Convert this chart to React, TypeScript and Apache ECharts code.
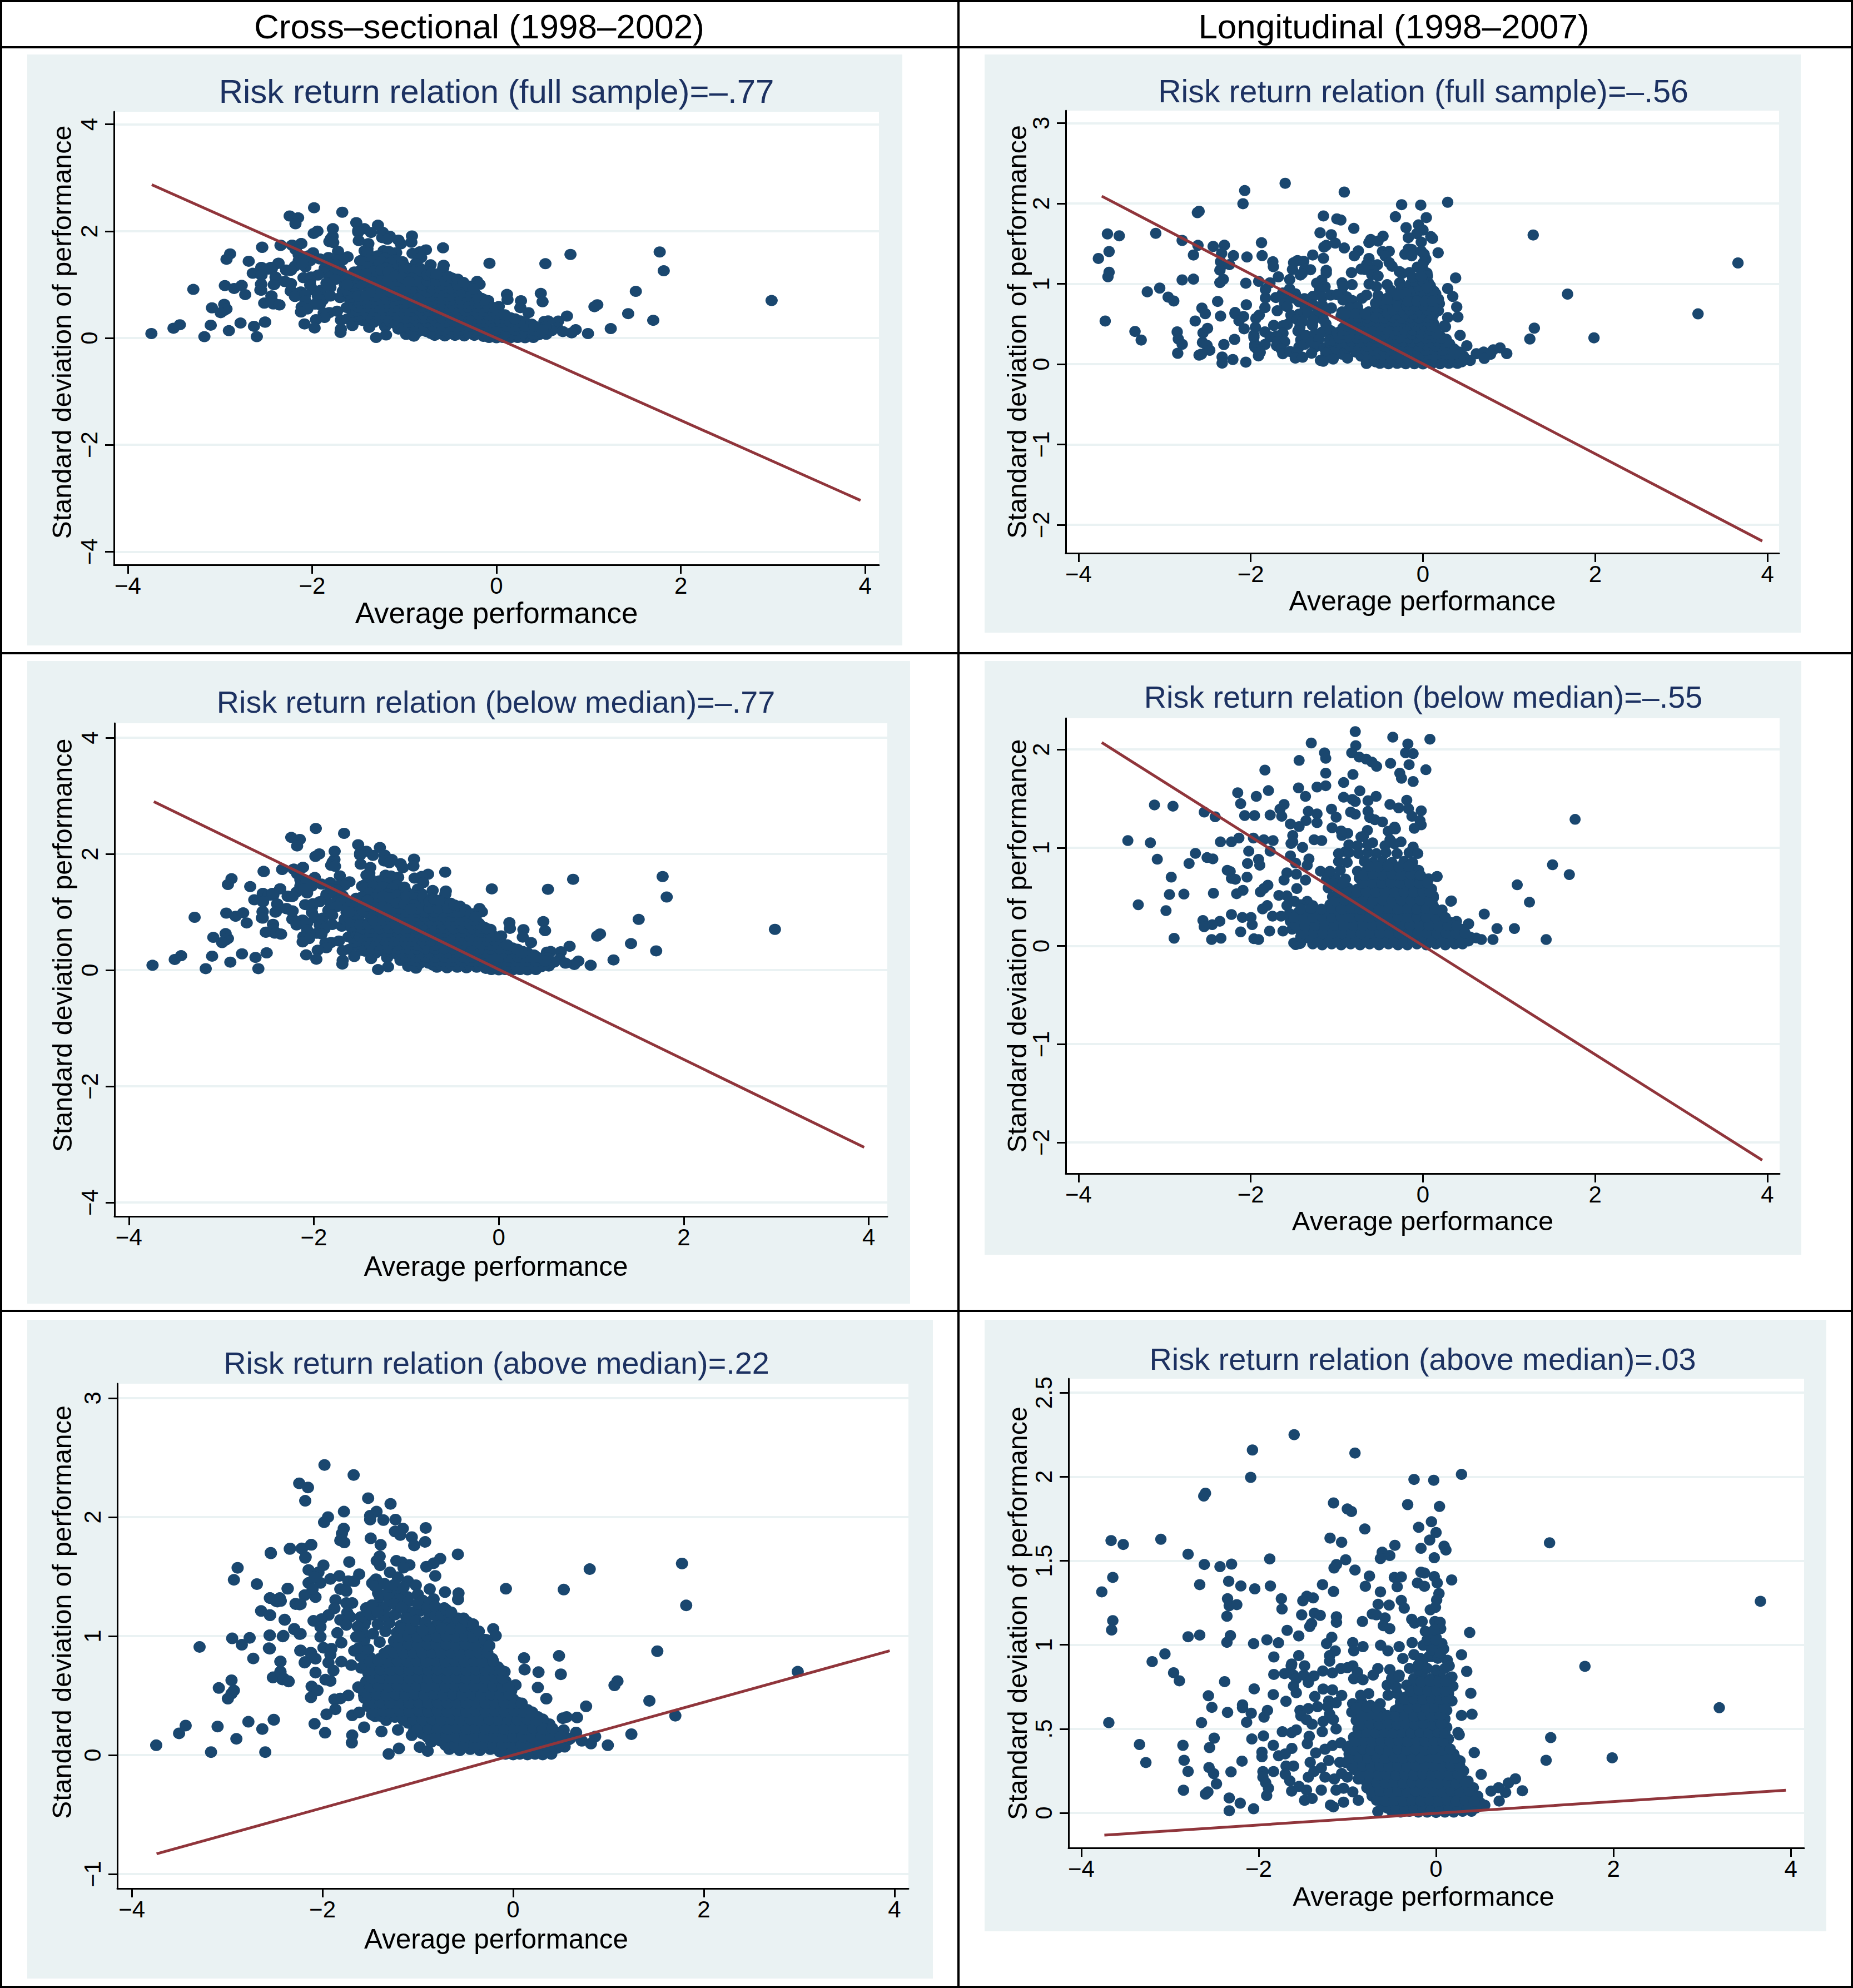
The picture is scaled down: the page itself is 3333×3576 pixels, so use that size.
import React, { useEffect, useRef } from "react";
import * as echarts from "echarts";

const columnHeaders = ["Cross–sectional (1998–2002)", "Longitudinal (1998–2007)"];
const panelTitles = [
  "Risk return relation (full sample)=–.77",
  "Risk return relation (full sample)=–.56",
  "Risk return relation (below median)=–.77",
  "Risk return relation (below median)=–.55",
  "Risk return relation (above median)=.22",
  "Risk return relation (above median)=.03",
];
const xTitle = "Average performance";
const yTitle = "Standard deviation of performance";
const xTicks = [-4, -2, 0, 2, 4];
const yTicksWide = [-4, -2, 0, 2, 4];
const yTicksLong = [-2, -1, 0, 1, 2, 3];
const yTicksBelow = [-2, -1, 0, 1, 2];
const yTicksAboveCs = [-1, 0, 1, 2, 3];
const yTicksAboveLong = [0, 0.5, 1, 1.5, 2, 2.5];
const fitCsFull = [[-3.74, 2.87], [3.95, -3.04]];
const fitLongFull = [[-3.73, 2.09], [3.94, -2.2]];
const fitCsBelow = [[-3.73, 2.9], [3.95, -3.05]];
const fitLongBelow = [[-3.73, 2.07], [3.94, -2.18]];
const fitCsAbove = [[-3.74, -0.83], [3.95, 0.877]];
const fitLongAbove = [[-3.74, -0.132], [3.945, 0.135]];

const csOutliers = [
[-3.744,.083],[-3.504,.183],[-3.435,.248],[-3.169,.025],[-3.1,.24],[-2.903,.137],[-2.777,.28],[-2.631,.219],[-2.6,.025],[-2.511,.298],
[-3.289,.909],[-2.947,.981],[-2.846,.927],[-2.764,.985],[-2.726,.812],[-2.562,.898],[-2.555,1.006],[-2.41,1.003],[-2.89,1.574],[-2.929,1.473],
[-2.688,1.437],[-2.543,1.7],[-2.366,1.398],[-2.549,1.319],[-2.454,1.315],[-2.473,1.29],[-2.644,1.211],[-2.549,1.175],[-2.397,1.139],[-2.283,1.272],
[-2.239,1.265],[-2.296,1.056],[-2.239,1.017],[-2.954,.629],[-3.087,.564],[-2.929,.543],[-2.954,.517],[-2.992,.474],[-2.441,.787],[-2.441,.697],
[-2.517,.654],[-2.422,.636],[-2.359,.622],[-2.34,1.736],[-2.214,1.736],[-2.119,1.768],[-2.176,1.664],[-2.233,.877],[-2.119,.859],[-2.182,.783],
[2.985,.701],[1.771,1.61],[1.815,1.258],[1.512,.873],[.803,1.563],[.531,1.391],[-.076,1.398],[1.094,.622],[1.063,.586],[1.429,.456],[1.701,.331],
[1.24,.176],[.993,.083],[.86,.155],[.816,.097],[.765,.41],[.67,.316],[.481,.834],[.5,.679],[.266,.697],[.259,.568],[.114,.816],[.12,.719],[.348,.474],
[.025,.589],[-.209,1.06],[-.183,1.003],[-.282,.969],[-.282,.927],[-.573,1.361],[-.578,1.308],[-.715,1.37],[-.723,1.236],[.66,.19],[.58,.13],[.72,.12],[.52,.31],[.56,.32],
[-1.979,2.438],[-1.673,2.354],[-2.244,2.284],[-2.152,2.249],[-2.181,2.137],[-1.521,2.159],[-1.286,2.111],[-1.775,2.046],[-1.942,2.0],[-1.983,1.957],
[-1.433,2.046],[-1.5,2.012],[-1.5,1.979],[-1.361,1.975],[-1.234,1.979],[-.917,1.909],[-1.157,1.904],[-1.24,1.879],[-1.184,1.849],[-1.063,1.832],
[-.923,1.792],[-1.038,1.762],[-1.777,1.904],[-1.796,1.862],[-1.813,1.804],[-1.771,1.787],[-1.494,1.822],[-1.39,1.767],[-2.541,1.695],[-2.343,1.732],
[-2.219,1.737],[-2.117,1.767],[-2.181,1.657],[-1.719,1.623],[-1.4,1.67],[-1.431,1.633],[-1.396,1.595],[-1.225,1.633],[-1.167,1.62],[-1.088,1.598],
[-1.15,1.575],[-.765,1.65],[-.834,1.612],[-.911,1.583],[-.58,1.687],[-.817,1.506],[-1.99,1.595],[-2.146,1.556],[-2.042,1.536],
[-2.146,1.447],[-2.021,1.447],[-2.083,1.497],[-1.917,1.48],[-1.823,1.506],[-1.729,1.461],[-1.615,1.52],[-1.667,1.461],[-2.187,1.344],[-2.073,1.328],
[-2.104,1.395],[-2.281,1.269],[-2.229,1.269],[-2.364,1.4],[-2.552,1.32],[-2.489,1.295],[-2.437,1.295],[-2.448,1.32],[-1.864,1.303],[-1.813,1.395],
[-1.75,1.378],[-1.75,1.278],[-1.688,1.278],[-1.74,1.197],[-1.708,1.161],[-1.875,1.233],[-1.937,1.177],[-2.01,1.143],[-2.094,1.128],[-2.021,1.077],
[-1.813,1.136],[-1.75,1.094],[-1.844,1.027],[-2.021,.994],[-1.802,.944],[-1.99,.902],[-1.906,.894],[-1.917,.844],[-1.937,.777],[-1.885,.71],
[-1.802,.785],[-1.698,.756],[-1.594,.733],[-2.229,.88],[-2.125,.86],[-2.187,.777],[-2.073,.81],[-2.073,.693],[-1.969,.634],[-1.917,.623],
[-2.114,.577],[-2.052,.543],[-2.121,.485],[-2.441,.785],[-2.52,.652],[-2.441,.702],[-2.406,.643],[-2.354,.618],[-2.396,1.136],[-2.296,1.061],
[-2.229,1.019],[-2.416,.997],[-2.552,1.177],[-2.552,1.007],[-2.552,.894],[-1.625,.571],[-1.563,.501],[-1.729,.501],[-1.813,.476],[-1.875,.468],
[-1.865,.385],[-1.958,.343],[-1.688,.334],[-1.615,.359],[-2.083,.263],[-1.973,.188],[-1.563,.234],[-1.688,.167],[-1.692,.104],[-1.381,.198],
[-1.208,.212],[-2.51,.296],[-1.198,.056],[-1.306,.009],[-.98,.067],[-.896,.034],[-1.448,.326],[-1.333,.293],[-1.063,.167],[-1.667,.877],[-1.646,.994],
[-1.563,1.094],[-1.542,1.236],[-1.458,1.461],[-1.438,1.478],[-1.292,1.536],[-1.209,1.495],[-1.104,1.461],[-1.021,1.428],[-.875,1.395],[-.834,1.311],
[-.979,1.211],[-1.417,1.361],[-1.313,1.361],[-1.209,1.361],[-1.104,1.328],[-1.417,1.261],[-1.146,1.233],[-.875,1.177],[-.74,1.128],[-.542,1.144],
[-.417,1.036],[-1.479,1.445],[-1.313,1.161],
];
const csBlob = [
[-.08,.01],[0,.005],[.07,.01],[.15,.005],[.23,.01],[.31,.005],[.4,.01],
[-.67,.05],[-.56,.04],[-.45,.05],[-.35,.04],[-.24,.05],[-.14,.03],[-.04,.05],[.06,.04],[.16,.05],[.26,.04],[.36,.05],[.46,.06],[.54,.07],
[-.86,.11],[-.76,.12],[-.66,.1],[-.56,.12],[-.46,.11],[-.36,.13],[-.26,.11],[-.16,.12],[-.06,.11],[.04,.13],[.14,.11],[.24,.12],[.34,.11],[.44,.13],[.53,.12],[.6,.14],
[-1.04,.2],[-.95,.18],[-.84,.2],[-.74,.19],[-.64,.18],[-.54,.2],[-.44,.19],[-.34,.18],[-.24,.2],[-.14,.19],[-.04,.18],[.06,.2],[.16,.19],[.26,.18],[.36,.2],[.46,.19],[.53,.21],
[-1.1,.27],[-1,.25],[-.9,.27],[-.8,.26],[-.7,.25],[-.6,.27],[-.5,.26],[-.4,.25],[-.3,.27],[-.2,.26],[-.1,.25],[0,.27],[.1,.26],[.2,.25],[.3,.27],[.38,.26],
[-1.48,.34],[-1.4,.33],[-1.32,.35],[-1.24,.32],[-1.14,.34],[-1.04,.33],[-.94,.32],[-.84,.34],[-.74,.33],[-.64,.32],[-.54,.34],[-.44,.33],[-.34,.32],[-.24,.34],[-.14,.33],[-.04,.32],[.06,.34],[.16,.33],[.26,.32],[.31,.3],
[-1.52,.41],[-1.44,.4],[-1.34,.39],[-1.24,.41],[-1.14,.4],[-1.04,.39],[-.94,.41],[-.84,.4],[-.74,.39],[-.64,.41],[-.54,.4],[-.44,.39],[-.34,.41],[-.24,.4],[-.14,.39],[-.04,.41],[.05,.4],[.15,.38],
[-1.56,.48],[-1.48,.47],[-1.38,.46],[-1.28,.48],[-1.18,.47],[-1.08,.46],[-.98,.48],[-.88,.47],[-.78,.46],[-.68,.48],[-.58,.47],[-.48,.46],[-.38,.48],[-.28,.47],[-.18,.46],[-.08,.48],[0,.47],[.05,.44],
[-1.58,.55],[-1.5,.54],[-1.4,.53],[-1.3,.55],[-1.2,.54],[-1.1,.53],[-1,.55],[-.9,.54],[-.8,.53],[-.7,.55],[-.6,.54],[-.5,.53],[-.4,.55],[-.3,.54],[-.2,.53],[-.1,.55],[-.02,.54],
[-1.54,.62],[-1.46,.61],[-1.36,.6],[-1.26,.62],[-1.16,.61],[-1.06,.6],[-.96,.62],[-.86,.61],[-.76,.6],[-.66,.62],[-.56,.61],[-.46,.6],[-.36,.62],[-.26,.61],[-.16,.6],[-.08,.62],
[-1.52,.69],[-1.44,.68],[-1.34,.67],[-1.24,.69],[-1.14,.68],[-1.04,.67],[-.94,.69],[-.84,.68],[-.74,.67],[-.64,.69],[-.54,.68],[-.44,.67],[-.34,.69],[-.24,.68],[-.14,.67],[-.09,.7],
[-1.56,.76],[-1.46,.75],[-1.36,.74],[-1.26,.76],[-1.16,.75],[-1.06,.74],[-.96,.76],[-.86,.75],[-.76,.74],[-.66,.76],[-.56,.75],[-.46,.74],[-.36,.76],[-.26,.75],[-.16,.74],
[-1.6,.83],[-1.5,.82],[-1.4,.81],[-1.3,.83],[-1.2,.82],[-1.1,.81],[-1,.83],[-.9,.82],[-.8,.81],[-.7,.83],[-.6,.82],[-.5,.81],[-.4,.83],[-.3,.82],[-.22,.81],
[-1.62,.9],[-1.52,.89],[-1.3,.88],[-1.2,.9],[-1.1,.89],[-1,.88],[-.9,.9],[-.8,.89],[-.7,.88],[-.6,.9],[-.5,.89],[-.4,.88],[-.32,.9],
[-1.56,.97],[-1.4,.95],[-1.25,.96],[-1.15,.97],[-1.05,.95],[-.95,.96],[-.85,.97],[-.75,.95],[-.65,.96],[-.55,.97],[-.45,.95],[-.37,.98],
[-1.58,1.03],[-1.47,1.02],[-1.34,1.04],[-1.22,1.03],[-1.12,1.02],[-1.02,1.04],[-.92,1.03],[-.82,1.02],[-.72,1.04],[-.62,1.03],[-.52,1.02],[-.44,1.04],
[-1.55,1.12],[-1.42,1.1],[-1.3,1.11],[-1.18,1.09],[-1.06,1.11],[-.8,1.1],[-.7,1.09],[-.6,1.1],[-.5,1.09],
[-1.48,1.18],[-1.36,1.17],[-1.24,1.18],[-1.12,1.16],[-.82,1.18],[-.68,1.16],[-.58,1.15],
];
const csSolid = [
[-.71,.085],[-.61,.08],[-.51,.085],[-.41,.08],[-.31,.085],[-.21,.08],[-.11,.085],[-.01,.08],[.09,.085],[.19,.08],[.29,.085],[.39,.08],[.49,.09],
[-.9,.155],[-.8,.15],[-.7,.155],[-.6,.15],[-.5,.155],[-.4,.15],[-.3,.155],[-.2,.15],[-.1,.155],[0,.15],[.1,.155],[.2,.15],[.3,.155],[.4,.15],[.5,.155],
[-1,.225],[-.89,.22],[-.79,.225],[-.69,.22],[-.59,.225],[-.49,.22],[-.39,.225],[-.29,.22],[-.19,.225],[-.09,.22],[.01,.225],[.11,.22],[.21,.225],[.31,.22],[.41,.225],
[-1.15,.295],[-1.05,.3],[-.95,.295],[-.85,.3],[-.75,.295],[-.65,.3],[-.55,.295],[-.45,.3],[-.35,.295],[-.25,.3],[-.15,.295],[-.05,.3],[.05,.295],[.15,.3],[.25,.295],
[-1.44,.365],[-1.36,.37],[-1.28,.365],[-1.19,.37],[-1.09,.365],[-.99,.37],[-.89,.365],[-.79,.37],[-.69,.365],[-.59,.37],[-.49,.365],[-.39,.37],[-.29,.365],[-.19,.37],[-.09,.365],[.01,.37],[.11,.365],[.2,.36],
[-1.48,.435],[-1.39,.44],[-1.29,.435],[-1.19,.44],[-1.09,.435],[-.99,.44],[-.89,.435],[-.79,.44],[-.69,.435],[-.59,.44],[-.49,.435],[-.39,.44],[-.29,.435],[-.19,.44],[-.09,.435],[.01,.44],[.09,.435],
[-1.52,.505],[-1.43,.51],[-1.33,.505],[-1.23,.51],[-1.13,.505],[-1.03,.51],[-.93,.505],[-.83,.51],[-.73,.505],[-.63,.51],[-.53,.505],[-.43,.51],[-.33,.505],[-.23,.51],[-.13,.505],[-.04,.51],
[-1.5,.575],[-1.41,.58],[-1.31,.575],[-1.21,.58],[-1.11,.575],[-1.01,.58],[-.91,.575],[-.81,.58],[-.71,.575],[-.61,.58],[-.51,.575],[-.41,.58],[-.31,.575],[-.21,.58],[-.11,.575],[-.05,.58],
[-1.48,.645],[-1.39,.65],[-1.29,.645],[-1.19,.65],[-1.09,.645],[-.99,.65],[-.89,.645],[-.79,.65],[-.69,.645],[-.59,.65],[-.49,.645],[-.39,.65],[-.29,.645],[-.19,.65],[-.11,.645],
[-1.48,.715],[-1.39,.72],[-1.29,.715],[-1.19,.72],[-1.09,.715],[-.99,.72],[-.89,.715],[-.79,.72],[-.69,.715],[-.59,.72],[-.49,.715],[-.39,.72],[-.29,.715],[-.19,.72],[-.13,.715],
[-1.5,.785],[-1.41,.79],[-1.31,.785],[-1.21,.79],[-1.11,.785],[-1.01,.79],[-.91,.785],[-.81,.79],[-.71,.785],[-.61,.79],[-.51,.785],[-.41,.79],[-.31,.785],[-.21,.79],
[-1.35,.855],[-1.25,.86],[-1.15,.855],[-1.05,.86],[-.95,.855],[-.85,.86],[-.75,.855],[-.65,.86],[-.55,.855],[-.45,.86],[-.35,.855],[-.27,.86],
[-1.2,.925],[-1.1,.93],[-1,.925],[-.9,.93],[-.8,.925],[-.7,.93],[-.6,.925],[-.5,.93],[-.4,.925],
[-1.2,.995],[-1.1,1],[-1,.995],[-.9,1],[-.8,.995],[-.7,1],[-.6,.995],[-.5,1],[-.42,.995],
[-1.18,1.065],[-1.08,1.06],[-.75,1.065],[-.65,1.06],[-.55,1.065],
[-1.45,1.42],[-1.35,1.44],[-1.25,1.43],[-1.15,1.41],[-1.4,1.33],[-1.3,1.32],[-1.2,1.31],[-1.1,1.29],[-1,1.35],[-.95,1.3],[-.88,1.28],
[-1.48,1.26],[-1.33,1.25],[-1.25,1.27],[-1.17,1.24],[-1.05,1.2],[-1,1.27],[-.9,1.24],[-.82,1.25],
[-1.6,1.16],[-1.5,1.18],[-1.42,1.2],[-1.1,1.15],[-1.02,1.13],[-.92,1.12],[-.88,1.06],[-.95,1.05],
[-1.63,1.08],[-1.62,1],[-.75,1.18],[-.7,1.22],[-.65,1.2],[-.52,1.15],[-.48,1.12],[-.42,1.1],[-.36,1.04],[-.3,.97],[-.25,.92],
];
const longOutliers = [
[-1.6,2.25],[-2.07,2.159],[-.914,2.141],[-2.09,1.996],[.287,2.014],[-.248,1.984],[-.026,1.979],[-2.6,1.902],[-2.619,1.885],[-1.156,1.844],[-.32,1.834],[.039,1.823],
[-1,1.808],[-.954,1.793],[-.803,1.689],[-.052,1.732],[-.196,1.699],[0,1.668],[-.072,1.623],[-1.195,1.635],[-1.065,1.61],[-3.664,1.62],[-3.527,1.597],[-3.103,1.628],
[-2.796,1.539],[1.28,1.607],[.091,1.587],[.111,1.564],[-.464,1.592],[-.607,1.551],[-.522,1.531],[-.627,1.513],[-.17,1.574],[-.02,1.518],[-1.875,1.511],[-1.019,1.506],
[-1.123,1.478],[-1.15,1.457],[-2.613,1.478],[-2.436,1.465],[-2.306,1.48],[-.914,1.445],[-.751,1.409],[-.47,1.401],[-.392,1.404],[-.17,1.432],[-.131,1.427],[-.02,1.406],
[.176,1.386],[.013,1.368],[-.209,1.368],[-.131,1.348],[-.438,1.345],[-3.645,1.401],[-3.769,1.315],[-2.665,1.358],[-2.338,1.378],[-2.201,1.35],[-2.044,1.333],[-1.868,1.35],
[-1.28,1.358],[-1.156,1.317],[-.797,1.348],[-.627,1.315],[.033,1.305],[.007,1.267],[-2.351,1.274],[-2.332,1.233],[-2.247,1.239],[-1.744,1.274],[-1.737,1.213],[-1.457,1.289],
[-1.385,1.279],[-1.502,1.262],[-.653,1.241],[-.529,1.236],[-.392,1.264],[-.359,1.218],[-.065,1.208],[-.007,1.223],[-2.358,1.17],[-1.515,1.178],[-1.372,1.188],[-1.306,1.175],
[-1.123,1.167],[-1.123,1.134],[-.83,1.139],[-.718,1.183],[-.673,1.178],[-.575,1.16],[-3.645,1.144],[-3.658,1.088],[-2.796,1.048],[-2.665,1.058],[-2.319,1.055],[-2.358,1.015],
[-2.057,1.007],[-1.907,1.03],[-1.777,1.012],[-1.424,1.109],[-1.404,1.127],[-1.679,1.086],[-1.548,1.053],[-1.176,1.045],[-1.234,1.007],[-.594,1.114],[-.522,1.096],[-.274,1.152],
[-.242,1.129],[-.157,1.139],[-.013,1.139],[.046,1.134],[.052,1.096],[-.033,1.076],[.379,1.073],[.287,.941],[.346,.842],[.392,.712],[.287,.58],[.405,.587],[.248,.478],[.261,.465],
[.431,.359],[3.658,1.259],[1.679,.872],[3.194,.626],[1.986,.328],[1.293,.448],[1.241,.313],[.973,.132],[.895,.203],[.816,.178],[.784,.122],[.705,.15],[.62,.13],[.712,.071],
[.509,.229],[.549,.046],[-3.057,.946],[-3.201,.9],[-2.959,.834],[-2.894,.786],[-2.384,.781],[-2.567,.697],[-2.528,.628],[-2.351,.598],[-2.182,.643],[-2.182,.626],[-2.084,.593],
[-2.136,.539],[-2.645,.537],[-3.69,.537],[-2.051,.738],[-3.344,.407],[-3.272,.3],[-2.854,.402],[-2.841,.313],[-2.796,.247],[-2.848,.135],[-2.554,.389],[-2.502,.445],[-2.56,.27],
[-2.508,.234],[-2.476,.173],[-2.6,.112],[-2.573,.125],[-2.312,.244],[-2.188,.308],[-2.332,.089],[-2.332,.013],[-2.208,.058],[-2.057,.025],[-2.077,.44],[-1.946,.458],[-1.835,.402],
[-1.94,.57],[-1.901,.61],[-1.835,.704],[-1.829,.824],[-1.829,.928],[-1.692,.664],[-1.633,.875],[-1.548,.936],
[-1.137,.964],[-1.2,.936],[-1.2,.903],[-1.628,.886],[-1.482,.875],[-1.708,.829],[-1.608,.82],[-1.576,.798],[-1.492,.82],[-1.377,.815],[-1.44,.776],[-1.607,.754],[-1.576,.715],
[-1.277,.844],[-1.168,.833],[-1.074,.859],[-.939,.875],[-1,.864],[-.886,.837],[-.928,.798],[-.824,.792],[-.709,.82],[-.656,.859],[-.939,1.013],[-.824,.989],[-.928,.964],[-.625,.997],
[-.542,.964],[-.416,.989],[-.27,1.013],[-.145,.997],[-.04,1.074],[.002,1.041],[.065,1.008],[.085,.975],[-.521,.853],[-.416,.82],[-.374,.919],[-.249,.942],[-.165,.908],[-.04,.93],
[.127,.908],[.148,.875],[.179,.809],[.19,.754],[.179,.666],[-1.273,.737],[-1.168,.732],[-1.367,.693],[-1.064,.699],[-1.21,.666],[-1.127,.655],[-1.534,.61],[-1.44,.621],[-1.336,.632],
[-1.524,.577],[-1.461,.555],[-1.398,.528],[-1.221,.632],[-1.2,.588],[-1.158,.555],[-1.273,.544],[-1.283,.483],[-1.127,.5],[-1.733,.483],[-1.576,.494],[-1.628,.478],[-1.43,.456],
[-1.451,.412],[-1.626,.384],[-1.775,.34],[-1.701,.351],[-1.963,.362],[-1.963,.334],[-1.691,.279],[-1.607,.279],[-1.833,.246],[-1.952,.246],[-1.952,.213],[-1.921,.18],[-1.89,.147],
[-1.91,.103],[-1.7,.23],[-1.649,.191],[-1.628,.13],[-1.545,.158],[-1.44,.213],[-1.461,.136],[-1.482,.075],[-1.398,.086],[-1.419,.301],[-1.357,.357],[-1.252,.379],[-1.168,.401],
[-1.074,.417],[-1.001,.39],[-1.377,.246],[-1.294,.268],[-1.21,.312],[-1.252,.213],[-1.147,.202],[-1.064,.235],[-1.001,.213],[-1.294,.136],[-1.043,.147],[-.939,.125],[-1.127,.136],
[-1.043,.064],[-1.19,.047],[-1.158,.036],[-.876,.075],[-.656,.009],[-1.085,.301],[-.918,.257],[-.876,.202],
];
const longBlob = [
[-.5,.01],[-.4,.005],[-.3,.01],[-.2,.005],[-.1,.005],[0,.003],[.1,.005],[.2,.005],[.3,.01],[.4,.01],
[-.6,.05],[-.5,.05],[-.4,.04],[-.3,.05],[-.2,.04],[-.1,.05],[0,.04],[.1,.05],[.2,.04],[.3,.05],[.4,.04],[.5,.06],
[-.72,.1],[-.62,.11],[-.52,.1],[-.42,.09],[-.32,.1],[-.22,.11],[-.12,.1],[-.02,.09],[.08,.1],[.18,.11],[.28,.1],[.38,.09],[.47,.1],
[-.78,.15],[-.68,.16],[-.58,.14],[-.48,.15],[-.38,.16],[-.28,.14],[-.18,.15],[-.08,.16],[.02,.14],[.12,.15],[.22,.16],[.32,.14],[.42,.15],
[-.82,.2],[-.72,.2],[-.62,.21],[-.52,.19],[-.42,.2],[-.32,.21],[-.22,.19],[-.12,.2],[-.02,.21],[.08,.19],[.18,.2],[.28,.21],[.36,.19],
[-.88,.25],[-.78,.26],[-.68,.24],[-.58,.25],[-.48,.26],[-.38,.24],[-.28,.25],[-.18,.26],[-.08,.24],[.02,.25],[.12,.26],[.22,.24],[.31,.25],
[-1.02,.3],[-.92,.31],[-.82,.29],[-.72,.3],[-.62,.31],[-.52,.29],[-.42,.3],[-.32,.31],[-.22,.29],[-.12,.3],[-.02,.31],[.08,.29],[.18,.3],[.27,.31],
[-.98,.35],[-.88,.36],[-.78,.34],[-.68,.35],[-.58,.36],[-.48,.34],[-.38,.35],[-.28,.36],[-.18,.34],[-.08,.35],[.02,.36],[.12,.34],[.2,.35],
[-.97,.4],[-.87,.41],[-.77,.39],[-.67,.4],[-.57,.41],[-.47,.39],[-.37,.4],[-.27,.41],[-.17,.39],[-.07,.4],[.03,.41],[.13,.39],
[-.93,.45],[-.83,.46],[-.73,.44],[-.63,.45],[-.53,.46],[-.43,.44],[-.33,.45],[-.23,.46],[-.13,.44],[-.03,.45],[.07,.46],[.14,.44],
[-.88,.5],[-.78,.51],[-.68,.49],[-.58,.5],[-.48,.51],[-.38,.49],[-.28,.5],[-.18,.51],[-.08,.49],[.02,.5],[.12,.51],
[-.9,.55],[-.8,.56],[-.7,.54],[-.6,.55],[-.5,.56],[-.4,.54],[-.3,.55],[-.2,.56],[-.1,.54],[0,.55],[.1,.56],
[-.95,.6],[-.85,.61],[-.72,.59],[-.62,.6],[-.46,.61],[-.36,.59],[-.26,.6],[-.16,.61],[-.06,.59],[.04,.6],[.12,.61],
[-.94,.65],[-.84,.66],[-.74,.64],[-.63,.65],[-.4,.66],[-.3,.64],[-.2,.65],[-.1,.66],[0,.64],[.1,.65],
[-.85,.7],[-.76,.71],[-.54,.7],[-.44,.71],[-.34,.69],[-.24,.7],[-.14,.71],[-.04,.69],[.06,.7],[.14,.71],
[-.55,.76],[-.45,.75],[-.33,.76],[-.22,.75],[-.12,.76],[-.02,.75],[.08,.76],[.15,.75],
[-.5,.8],[-.42,.81],[-.25,.8],[-.15,.81],[-.05,.8],[.05,.81],[.15,.8],
[-.3,.86],[-.2,.85],[-.1,.86],[0,.85],[.1,.86],[-.18,.92],[-.08,.93],[.02,.92],[-.06,.99],[.02,.98],
[-.15,.9],[-.05,.97],[-.1,1.03],[0,1.03],[.05,.95],[-.2,.88],[-.12,1.08],[-.02,1.09],
];
const longSolid = [
[-.55,.03],[-.45,.025],[-.35,.03],[-.25,.025],[-.15,.03],[-.05,.025],[.05,.03],[.15,.025],[.25,.03],[.35,.025],[.45,.03],
[-.67,.075],[-.57,.07],[-.47,.075],[-.37,.07],[-.27,.075],[-.17,.07],[-.07,.075],[.03,.07],[.13,.075],[.23,.07],[.33,.075],[.43,.07],
[-.73,.125],[-.63,.13],[-.53,.125],[-.43,.13],[-.33,.125],[-.23,.13],[-.13,.125],[-.03,.13],[.07,.125],[.17,.13],[.27,.125],[.37,.13],
[-.77,.175],[-.67,.18],[-.57,.175],[-.47,.18],[-.37,.175],[-.27,.18],[-.17,.175],[-.07,.18],[.03,.175],[.13,.18],[.23,.175],[.33,.18],
[-.85,.225],[-.75,.23],[-.65,.225],[-.55,.23],[-.45,.225],[-.35,.23],[-.25,.225],[-.15,.23],[-.05,.225],[.05,.23],[.15,.225],[.25,.23],
[-.95,.275],[-.83,.28],[-.73,.275],[-.63,.28],[-.53,.275],[-.43,.28],[-.33,.275],[-.23,.28],[-.13,.275],[-.03,.28],[.07,.275],[.17,.28],[.27,.275],
[-.97,.325],[-.87,.33],[-.77,.325],[-.67,.33],[-.57,.325],[-.47,.33],[-.37,.325],[-.27,.33],[-.17,.325],[-.07,.33],[.03,.325],[.13,.33],[.22,.325],
[-.93,.375],[-.83,.38],[-.73,.375],[-.63,.38],[-.53,.375],[-.43,.38],[-.33,.375],[-.23,.38],[-.13,.375],[-.03,.38],[.07,.375],[.16,.38],
[-.92,.425],[-.82,.43],[-.72,.425],[-.62,.43],[-.52,.425],[-.42,.43],[-.32,.425],[-.22,.43],[-.12,.425],[-.02,.43],[.08,.425],
[-.88,.475],[-.78,.48],[-.68,.475],[-.58,.48],[-.48,.475],[-.38,.48],[-.28,.475],[-.18,.48],[-.08,.475],[.02,.48],[.1,.475],
[-.84,.525],[-.74,.53],[-.64,.525],[-.54,.53],[-.44,.525],[-.34,.53],[-.24,.525],[-.14,.53],[-.04,.525],[.06,.53],
[-.84,.575],[-.75,.58],[-.65,.575],[-.55,.58],[-.45,.575],[-.35,.58],[-.25,.575],[-.15,.58],[-.05,.575],[.05,.58],
[-.9,.625],[-.78,.63],[-.67,.625],[-.41,.63],[-.31,.625],[-.21,.63],[-.11,.625],[-.01,.63],[.09,.625],
[-.35,.675],[-.25,.68],[-.15,.675],[-.05,.68],[.05,.675],[.12,.68],
[-.29,.725],[-.19,.73],[-.09,.725],[.01,.73],[.11,.725],
[-.17,.78],[-.07,.785],[.03,.78],[.11,.785],
];
const belowOutliers = [
[-.786,2.181],[-.35,2.125],[.081,2.104],[-1.297,2.065],[-.175,2.056],[-.78,2.039],[-1.143,1.965],[-1.129,1.909],[-1.438,1.888],[-.827,1.965],[-.202,1.965],[-.114,1.957],
[-.74,1.922],[-.659,1.901],[-.592,1.871],[-.538,1.827],[-.376,1.858],[-.161,1.845],[.034,1.793],[-1.835,1.789],[-1.129,1.758],[-.813,1.745],[-.269,1.758],[-.249,1.706],[-.114,1.673],
[-.921,1.663],[-2.151,1.559],[-1.794,1.581],[-1.445,1.608],[-1.23,1.617],[-1.129,1.63],[-.733,1.578],[-1.364,1.522],[-1.935,1.522],[-.921,1.513],[-.82,1.491],[-.786,1.47],[-.638,1.478],
[-.544,1.522],[-.383,1.44],[-.188,1.483],[-2.117,1.448],[-3.118,1.435],[-2.903,1.422],[-2.54,1.362],[-2.413,1.314],[-2.07,1.327],[-1.956,1.327],[-1.774,1.332],[-1.66,1.392],[-1.613,1.44],
[-1.64,1.319],[-1.331,1.37],[-1.23,1.344],[-1.062,1.392],[-1.008,1.31],[-.84,1.362],[-.786,1.34],[-.638,1.37],[-.618,1.306],[-.558,1.284],[-.47,1.262],[-.329,1.21],[-.282,1.405],[-.168,1.396],
[-.128,1.319],[-.02,1.375],[-.034,1.275],[-.02,1.232],[-.101,1.197],[-1.539,1.241],[-1.438,1.215],[-1.358,1.275],[-1.23,1.254],[-1.055,1.202],[-.645,1.176],[-.403,1.167],[-1.512,1.124],
[-1.512,1.059],[-1.264,1.081],[-1.176,1.072],[-.941,1.124],[-.874,1.146],[-.692,1.115],[-.585,1.05],[-.383,1.081],[-.255,1.059],[-.114,1.007],[-3.427,1.072],[-3.165,1.05],[-2.352,1.059],
[-2.224,1.059],[-2.137,1.098],[-1.969,1.098],[-1.848,1.081],[-1.741,1.072],[-1.532,1.042],[-1.398,1.003],[-2.023,.964],[-1.774,.964],[-3.085,.882],[-2.642,.942],[-2.507,.899],[-2.44,.886],
[-2.716,.839],[-1.909,.881],[-1.895,.821],[-2.037,.839],[-1.539,.917],[-1.324,.886],[-1.344,.821],[-1.479,.843],[-2.272,.77],[-2.238,.757],[-2.224,.687],[-2.178,.678],[-2.043,.7],[-2.923,.7],
[-1.58,.744],[-1.613,.67],[-1.364,.67],[-1.19,.76],[-1.47,.73],[-2.944,.523],[-2.776,.527],[-2.433,.536],[-3.306,.419],[-2.984,.359],[-2.164,.531],[-2.09,.566],[-1.888,.549],[-1.801,.618],
[-1.848,.584],[-1.673,.514],[-1.58,.51],[-1.465,.584],[-1.862,.376],[-1.808,.411],[-2.224,.32],[-2.555,.259],[-2.359,.251],[-2.447,.216],[-2.541,.195],[-2.097,.29],[-1.997,.29],[-1.983,.216],
[-2.117,.143],[-2.89,.078],[-2.454,.065],[-2.346,.078],[-1.963,.073],[-1.909,.065],[-1.781,.151],[-1.747,.303],[-1.647,.303],[-1.58,.411],[-1.492,.454],[-1.344,.454],[-1.626,.151],[-1.512,.238],
[-1.344,.281],[-1.479,.013],[-1.432,.022],[1.767,1.288],[1.505,.826],[1.7,.726],[1.095,.622],[1.237,.445],[1.062,.177],[1.431,.065],[.86,.177],[.813,.065],[.712,.324],[.679,.065],[.531,.225],
[.323,.454],[.161,.704],[.067,.683],[.121,.489],[.222,.367],[.527,.222],[.331,.459],[.165,.707],
[-.95,1.17],[-.9,.96],[-.72,1.11],[-.32,1.19],
];
const belowBlob = [
[-1.28,.02],[-1.17,.01],[-1.06,.02],[-.95,.01],[-.84,.02],[-.73,.01],[-.62,.02],[-.51,.01],[-.4,.02],[-.29,.01],[-.18,.01],[-.07,.02],[.04,.01],[.15,.02],[.26,.01],[.37,.02],[.46,.02],[-1.5,.03],[-1.42,.03],
[-1.42,.09],[-1.33,.08],[-1.22,.09],[-1.1,.08],[-.99,.09],[-.88,.08],[-.77,.09],[-.66,.08],[-.55,.09],[-.44,.08],[-.33,.09],[-.22,.08],[-.11,.09],[0,.08],[.11,.09],[.22,.08],[.33,.09],[.44,.08],[.55,.09],[.62,.08],
[-1.52,.17],[-1.43,.16],[-1.3,.17],[-1.18,.16],[-1.07,.17],[-.96,.16],[-.85,.17],[-.74,.16],[-.63,.17],[-.52,.16],[-.41,.17],[-.3,.16],[-.19,.17],[-.08,.16],[.03,.17],[.14,.16],[.25,.17],[.36,.16],[.45,.17],
[-1.54,.25],[-1.44,.24],[-1.33,.25],[-1.22,.24],[-1.11,.25],[-1,.24],[-.89,.25],[-.78,.24],[-.67,.25],[-.56,.24],[-.45,.25],[-.34,.24],[-.23,.25],[-.12,.24],[-.01,.25],[.1,.24],[.21,.25],[.32,.24],[.39,.25],
[-1.55,.33],[-1.45,.34],[-1.34,.33],[-1.23,.34],[-1.12,.33],[-1.01,.34],[-.9,.33],[-.79,.34],[-.68,.33],[-.57,.34],[-.46,.33],[-.35,.34],[-.24,.33],[-.13,.34],[-.02,.33],[.09,.34],[.18,.33],
[-1.42,.42],[-1.28,.41],[-1.08,.42],[-.97,.41],[-.86,.42],[-.75,.41],[-.64,.42],[-.53,.41],[-.42,.42],[-.31,.41],[-.2,.42],[-.09,.41],[.02,.42],[.12,.41],
[-1.05,.5],[-.94,.51],[-.83,.5],[-.72,.51],[-.61,.5],[-.5,.51],[-.39,.5],[-.28,.51],[-.17,.5],[-.06,.51],[.05,.5],[.12,.51],
[-1.1,.59],[-.99,.58],[-.87,.59],[-.76,.58],[-.65,.59],[-.54,.58],[-.43,.59],[-.32,.58],[-.21,.59],[-.1,.58],[.01,.59],[.1,.58],
[-1.12,.68],[-1.02,.69],[-.9,.68],[-.74,.69],[-.63,.68],[-.52,.69],[-.4,.68],[-.29,.69],[-.18,.68],[-.07,.69],[.03,.68],
[-1.08,.76],[-.96,.77],[-.76,.76],[-.65,.77],[-.54,.76],[-.44,.77],[-.34,.76],[-.24,.77],[-.14,.76],[-.05,.77],
[-.98,.86],[-.88,.85],[-.68,.86],[-.58,.85],[-.47,.86],[-.36,.85],[-.22,.86],[-.12,.85],
[-.98,.94],[-.86,.95],[-.75,.94],[-.64,.95],[-.54,.94],[-.43,.95],[-.3,.94],[-.16,.95],[-.06,.94],
[-.86,1.03],[-.76,1.02],[-.64,1.03],[-.44,1.02],[-.33,1.04],
];
const belowSolid = [
[-1.22,.05],[-1.11,.045],[-1,.05],[-.89,.045],[-.78,.05],[-.67,.045],[-.56,.05],[-.45,.045],[-.34,.05],[-.23,.045],[-.12,.05],[-.01,.045],[.1,.05],[.21,.045],[.32,.05],[.43,.045],[.53,.05],
[-1.38,.125],[-1.27,.13],[-1.16,.125],[-1.05,.13],[-.94,.125],[-.83,.13],[-.72,.125],[-.61,.13],[-.5,.125],[-.39,.13],[-.28,.125],[-.17,.13],[-.06,.125],[.05,.13],[.16,.125],[.27,.13],[.38,.125],[.49,.13],
[-1.48,.21],[-1.37,.205],[-1.25,.21],[-1.14,.205],[-1.03,.21],[-.92,.205],[-.81,.21],[-.7,.205],[-.59,.21],[-.48,.205],[-.37,.21],[-.26,.205],[-.15,.21],[-.04,.205],[.07,.21],[.18,.205],[.29,.21],[.39,.205],
[-1.5,.29],[-1.39,.295],[-1.28,.29],[-1.17,.295],[-1.06,.29],[-.95,.295],[-.84,.29],[-.73,.295],[-.62,.29],[-.51,.295],[-.4,.29],[-.29,.295],[-.18,.29],[-.07,.295],[.04,.29],[.15,.295],[.26,.29],
[-1.42,.375],[-1.3,.38],[-1.18,.375],[-1.06,.38],[-.95,.375],[-.84,.38],[-.73,.375],[-.62,.38],[-.51,.375],[-.4,.38],[-.29,.375],[-.18,.38],[-.07,.375],[.04,.38],[.14,.375],
[-1.02,.46],[-.91,.465],[-.8,.46],[-.69,.465],[-.58,.46],[-.47,.465],[-.36,.46],[-.25,.465],[-.14,.46],[-.03,.465],[.08,.46],
[-.99,.545],[-.88,.55],[-.77,.545],[-.66,.55],[-.55,.545],[-.44,.55],[-.33,.545],[-.22,.55],[-.11,.545],[0,.55],[.08,.545],
[-1.04,.635],[-.93,.64],[-.7,.635],[-.59,.64],[-.48,.635],[-.37,.64],[-.26,.635],[-.15,.64],[-.04,.635],[.05,.64],
[-.69,.72],[-.58,.725],[-.47,.72],[-.36,.725],[-.25,.72],[-.14,.725],[-.03,.72],
[-.63,.81],[-.52,.805],[-.41,.81],[-.28,.805],[-.17,.81],
];

const csPoints = [...csOutliers, ...csBlob, ...csSolid];
const longPoints = [...longOutliers, ...longBlob, ...longSolid];
const belowPoints = [...belowOutliers, ...belowBlob, ...belowSolid];

// layout: plot boxes, grey panels, axis windows, marker sizes, title fonts and gaps
const panels = [
  { pts: csPoints, fit: fitCsFull, yt: yTicksWide, box: [205, 201, 1376, 815], bg: [49, 98, 1574, 1063], xr: [-4.15, 4.15], yr: [-4.246, 4.235], tc: [893, 164], tFont: 60, shift: 22, sym: [22, 20], xFont: 53, xGap: 64, xPad: 0, yGap: 70 },
  { pts: longPoints, fit: fitLongFull, yt: yTicksLong, box: [1917, 199, 1283, 796], bg: [1771, 98, 1468, 1040], xr: [-4.148, 4.135], yr: [-2.351, 3.154], tc: [2560, 164], tFont: 57.3, shift: 0, sym: [20.5, 20], xFont: 50, xGap: 64, xPad: 0, yGap: 64 },
  { pts: csPoints, fit: fitCsBelow, yt: yTicksWide, box: [206, 1301, 1390, 887], bg: [49, 1189, 1588, 1156], xr: [-4.155, 4.2], yr: [-4.239, 4.249], tc: [892, 1263], tFont: 55.7, shift: 88, sym: [22, 20], xFont: 49.5, xGap: 67, xPad: 18, yGap: 70 },
  { pts: belowPoints, fit: fitLongBelow, yt: yTicksBelow, box: [1917, 1292, 1284, 819], bg: [1771, 1189, 1469, 1068], xr: [-4.148, 4.142], yr: [-2.317, 2.317], tc: [2560, 1254], tFont: 55.7, shift: 0, sym: [20, 19.5], xFont: 49, xGap: 63, xPad: 0, yGap: 64 },
  { pts: csPoints, fit: fitCsAbove, yt: yTicksAboveCs, box: [211, 2489, 1423, 908], bg: [49, 2374, 1629, 1185], xr: [-4.152, 4.146], yr: [-1.121, 3.121], tc: [893, 2451], tFont: 55.8, shift: 86, sym: [22, 21], xFont: 49.5, xGap: 68, xPad: 60, yGap: 76 },
  { pts: longPoints, fit: fitLongAbove, yt: yTicksAboveLong, box: [1922, 2480, 1323, 844], bg: [1771, 2374, 1514, 1100], xr: [-4.144, 4.15], yr: [-0.208, 2.583], tc: [2559, 2444], tFont: 55.9, shift: 0, sym: [20.5, 20], xFont: 49, xGap: 65, xPad: 46, yGap: 68 },
];

const FONT = "'Liberation Sans', Arial, sans-serif";
const NAVY = "#1a476f";
const MAROON = "#90353b";
const GRID = "#eaf2f3";

const fmt = (v: number) => {
  const abs = Math.abs(v);
  const s = abs < 1 && abs > 0 ? String(abs).replace(/^0/, "") : String(abs);
  return (v < 0 ? "−" : "") + s;
};

function buildOption() {
  const title: any[] = [
    { text: columnHeaders[0], left: 862, top: 47, padding: 0, textAlign: "center", textVerticalAlign: "middle", textStyle: { fontFamily: FONT, fontSize: 62, fontWeight: "normal", color: "#000" } },
    { text: columnHeaders[1], left: 2507, top: 47, padding: 0, textAlign: "center", textVerticalAlign: "middle", textStyle: { fontFamily: FONT, fontSize: 62, fontWeight: "normal", color: "#000" } },
  ];
  const grid: any[] = [];
  const xAxis: any[] = [];
  const yAxis: any[] = [];
  const series: any[] = [];
  const graphic: any[] = [];
  panels.forEach((p, i) => {
    graphic.push({ type: "rect", z: -5, silent: true, shape: { x: p.bg[0], y: p.bg[1], width: p.bg[2], height: p.bg[3] }, style: { fill: GRID } });
    title.push({ text: panelTitles[i], left: p.tc[0], top: p.tc[1], padding: 0, textAlign: "center", textVerticalAlign: "middle", textStyle: { fontFamily: FONT, fontSize: p.tFont, fontWeight: "normal", color: "#1c3161" } });
    grid.push({ left: p.box[0], top: p.box[1], width: p.box[2], height: p.box[3], show: true, backgroundColor: "#fff", borderWidth: 0, containLabel: false });
    xAxis.push({
      type: "value", gridIndex: i, min: p.xr[0], max: p.xr[1],
      name: xTitle, nameLocation: "middle", nameGap: p.xGap, nameMoveOverlap: false,
      nameTextStyle: { fontFamily: FONT, fontSize: p.xFont, lineHeight: 44, color: "#000", padding: [0, p.xPad, 0, 0] },
      axisLine: { show: true, onZero: false, lineStyle: { color: "#000", width: 3 } },
      axisTick: { show: true, length: 16, customValues: xTicks, lineStyle: { color: "#000", width: 3 } },
      axisLabel: { show: true, customValues: xTicks, margin: 24, fontFamily: FONT, fontSize: 42, lineHeight: 26, color: "#000", formatter: fmt, hideOverlap: false, showMinLabel: true, showMaxLabel: true },
      splitLine: { show: false },
    });
    yAxis.push({
      type: "value", gridIndex: i, min: p.yr[0], max: p.yr[1],
      name: yTitle, nameLocation: "middle", nameGap: p.yGap, nameRotate: 90, nameMoveOverlap: false,
      nameTextStyle: { fontFamily: FONT, fontSize: 48.5, color: "#000", padding: [0, 0, 0, p.shift] },
      axisLine: { show: true, onZero: false, lineStyle: { color: "#000", width: 3 } },
      axisTick: { show: true, length: 16, customValues: p.yt, lineStyle: { color: "#000", width: 3 } },
      axisLabel: { show: true, rotate: 90, customValues: p.yt, margin: 24, fontFamily: FONT, fontSize: 42, color: "#000", formatter: fmt, hideOverlap: false, showMinLabel: true, showMaxLabel: true },
      splitLine: { show: true, lineStyle: { color: GRID, width: 4 } },
    });
    series.push({
      type: "scatter", xAxisIndex: i, yAxisIndex: i, data: p.pts, symbol: "circle", symbolSize: p.sym, clip: false,
      itemStyle: { color: NAVY, opacity: 1 }, silent: true, z: 3,
    });
    series.push({
      type: "line", xAxisIndex: i, yAxisIndex: i, data: p.fit, showSymbol: false, clip: false,
      lineStyle: { color: MAROON, width: 5 }, silent: true, z: 4,
    });
  });
  const lines: number[][] = [
    [0, 2, 3333, 2], [0, 85, 3333, 85], [0, 1175, 3333, 1175], [0, 2358, 3333, 2358], [0, 3574, 3333, 3574],
    [2, 0, 2, 3576], [1724, 0, 1724, 3576], [3331, 0, 3331, 3576],
  ];
  lines.forEach((l) => graphic.push({ type: "line", z: 20, silent: true, shape: { x1: l[0], y1: l[1], x2: l[2], y2: l[3] }, style: { stroke: "#000", lineWidth: 4 } }));
  return { animation: false, backgroundColor: "#fff", title, grid, xAxis, yAxis, series, graphic, tooltip: { show: false } };
}

export default function App() {
  const ref = useRef<HTMLDivElement>(null);
  useEffect(() => {
    document.body.style.margin = "0";
    const chart = echarts.init(ref.current!, null, { renderer: "svg" });
    chart.setOption(buildOption() as any);
    return () => chart.dispose();
  }, []);
  return <div ref={ref} style={{ width: 3333, height: 3576 }} />;
}
